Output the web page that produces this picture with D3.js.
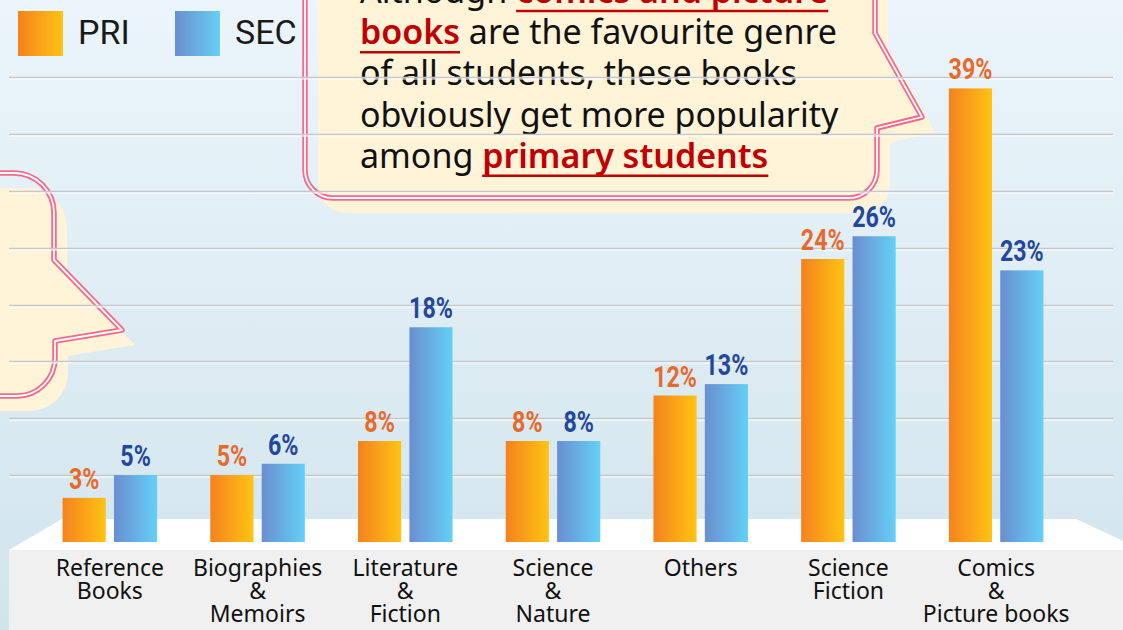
<!DOCTYPE html>
<html>
<head>
<meta charset="utf-8">
<script src="https://cdn.jsdelivr.net/npm/d3@7"></script>
<style>
  body { margin: 0; overflow: hidden; background: #fff; }
  svg { display: block; }
</style>
</head>
<body>
<div id="chart"></div>
<script>
// data
const categories = ["Reference\nBooks", "Biographies\n&\nMemoirs", "Literature\n&\nFiction",
  "Science\n&\nNature", "Others", "Science\nFiction", "Comics\n&\nPicture books"];
const series = ["PRI", "SEC"];
const priValues = [3, 5, 8, 8, 12, 24, 39];
const secValues = [5, 6, 18, 8, 13, 26, 23];
const gridValues = [5, 10, 15, 20, 25, 30, 35, 40];
const noteLines = [
  [["Although ", false], ["comics and picture", true]],
  [["books", true], [" are the favourite genre", false]],
  [["of all students, these books", false]],
  [["obviously get more popularity", false]],
  [["among ", false], ["primary students", true]]
];

const width = 1123, height = 630;
const baseline = 542;

const svg = d3.select("#chart").append("svg")
  .attr("width", width)
  .attr("height", height);

const defs = svg.append("defs");
function hGrad(id, c0, c1) {
  const g = defs.append("linearGradient").attr("id", id)
    .attr("x1", "0%").attr("y1", "0%").attr("x2", "100%").attr("y2", "0%");
  g.append("stop").attr("offset", "0%").attr("stop-color", c0);
  g.append("stop").attr("offset", "100%").attr("stop-color", c1);
}
hGrad("g-PRI", "#f4821f", "#ffc312");
hGrad("g-SEC", "#6a8ecf", "#64d0f6");
const bg = defs.append("linearGradient").attr("id", "g-bg")
  .attr("x1", "0%").attr("y1", "0%").attr("x2", "0%").attr("y2", "100%");
bg.append("stop").attr("offset", "0%").attr("stop-color", "#ebf5fb");
bg.append("stop").attr("offset", "100%").attr("stop-color", "#d1e4ec");

svg.append("rect").attr("width", width).attr("height", height).attr("fill", "url(#g-bg)");

// speech bubbles
const bubbleMain = "M305,-40 L305,170 A28,28 0 0 0 333,198 L849,198 A28,28 0 0 0 877,170 " +
  "L877,128 L922,117 L875,33 L875,-40 Z";
const bubbleLeft = "M-30,173 L14,173 A40,40 0 0 1 54,213 L54,260 L122,330 L55,341 L55,358 " +
  "A38,38 0 0 1 17,396 L-30,396 Z";

[bubbleMain, bubbleLeft].forEach(d => {
  svg.append("path").attr("d", d)
    .attr("transform", "translate(13,15)")
    .attr("fill", "#fff3d8");
});
[bubbleMain, bubbleLeft].forEach(d => {
  svg.append("path").attr("d", d).attr("fill", "none")
    .attr("stroke", "#f6698a").attr("stroke-width", 5.5).attr("stroke-linejoin", "round");
  svg.append("path").attr("d", d).attr("fill", "none")
    .attr("stroke", "#ffffff").attr("stroke-width", 1.8).attr("stroke-linejoin", "round");
});

// note text
const note = svg.append("g");
noteLines.forEach((line, i) => {
  const ty = 3 + i * 41.2;
  const t = note.append("text")
    .attr("x", 360).attr("y", ty)
    .attr("font-family", "'Noto Sans', sans-serif")
    .attr("font-size", 34)
    .attr("fill", "#111")
    .style("white-space", "pre");
  line.forEach(([s, hot]) => {
    const sp = t.append("tspan").text(s);
    if (hot) sp.attr("fill", "#c00000").attr("font-weight", 600);
  });
  t.selectAll("tspan").each(function (_, j) {
    if (!line[j][1]) return;
    const xs = this.getStartPositionOfChar(0).x;
    const w = this.getComputedTextLength();
    note.append("line")
      .attr("x1", xs).attr("x2", xs + w)
      .attr("y1", ty + 8).attr("y2", ty + 8)
      .attr("stroke", "#c00000").attr("stroke-width", 2.5);
  });
});

// scales
const x0 = d3.scaleBand().domain(categories).range([36, 1070])
  .paddingInner(0.36).paddingOuter(0.18);
const x1 = d3.scaleBand().domain(series).range([0, x0.bandwidth()]).paddingInner(0.16);
const y = d3.scaleLinear().domain([0, 40]).range([532, 77]);

// gridlines (drawn over the bubbles, as in the original)
const grid = svg.append("g");
grid.selectAll("line.g").data(gridValues).join("line")
  .attr("x1", 9).attr("x2", 1113)
  .attr("y1", d => Math.round(y(d)) + 0.5).attr("y2", d => Math.round(y(d)) + 0.5)
  .attr("stroke", "#c4c6c8").attr("stroke-width", 1.6);
grid.selectAll("line.w").data(gridValues).join("line")
  .attr("x1", 9).attr("x2", 1113)
  .attr("y1", d => Math.round(y(d)) + 2).attr("y2", d => Math.round(y(d)) + 2)
  .attr("stroke", "#ffffff").attr("stroke-width", 1.2);

// floor
svg.append("rect").attr("x", 9).attr("y", 550).attr("width", width - 9).attr("height", 80)
  .attr("fill", "#f0f0f0");
svg.append("path")
  .attr("d", "M9,550 L62,519 L1076,519 L1123,541 L1123,550 Z")
  .attr("fill", "#ffffff");

// bars
const rows = categories.map((c, i) => ({ cat: c, PRI: priValues[i], SEC: secValues[i] }));
const groups = svg.append("g").selectAll("g").data(rows).join("g")
  .attr("transform", d => `translate(${x0(d.cat)},0)`);

groups.selectAll("rect").data(d => series.map(s => ({ key: s, value: d[s] }))).join("rect")
  .attr("x", d => x1(d.key))
  .attr("y", d => y(d.value))
  .attr("width", x1.bandwidth())
  .attr("height", d => baseline - y(d.value))
  .attr("fill", d => `url(#g-${d.key})`);

groups.selectAll("text").data(d => series.map(s => ({ key: s, value: d[s] }))).join("text")
  .attr("transform", d => `translate(${x1(d.key) + x1.bandwidth() / 2},${y(d.value) - 9}) scale(0.8,1)`)
  .attr("text-anchor", "middle")
  .attr("font-family", "Roboto, sans-serif")
  .attr("font-weight", 700)
  .attr("font-size", 29)
  .attr("fill", d => d.key === "PRI" ? "#e8692c" : "#23479d")
  .text(d => d.value + "%");

// category labels
const catLabels = svg.append("g").selectAll("text").data(categories).join("text")
  .attr("x", d => x0(d) + x0.bandwidth() / 2)
  .attr("y", 576)
  .attr("text-anchor", "middle")
  .attr("font-family", "'Noto Sans', sans-serif")
  .attr("font-size", 23)
  .attr("fill", "#111");
catLabels.selectAll("tspan").data(d => d.split("\n")).join("tspan")
  .attr("x", function () { return d3.select(this.parentNode).attr("x"); })
  .attr("dy", (d, i) => i === 0 ? 0 : 23)
  .text(d => d);

// legend
const legend = svg.append("g").selectAll("g").data(series).join("g")
  .attr("transform", (d, i) => `translate(${18 + i * 157},11)`);
legend.append("rect").attr("width", 45).attr("height", 45)
  .attr("fill", d => `url(#g-${d})`);
legend.append("text").attr("x", 60).attr("y", 33)
  .attr("font-family", "Roboto, sans-serif")
  .attr("font-size", 34)
  .attr("fill", "#1a1a1a")
  .text(d => d);
</script>
</body>
</html>
